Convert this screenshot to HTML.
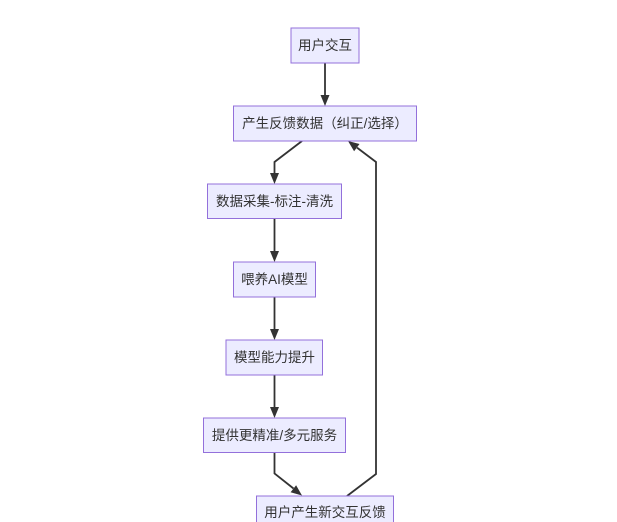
<!DOCTYPE html>
<html><head><meta charset="utf-8"><style>
html,body{margin:0;padding:0;background:#fff;width:617px;height:522px;overflow:hidden}
text{font-family:"Liberation Sans","Noto Sans CJK SC",sans-serif;font-size:13.5px;fill:#333}
</style></head><body>
<svg width="617" height="522" viewBox="0 0 617 522" xmlns="http://www.w3.org/2000/svg">
<g fill="none" stroke="#333" stroke-width="1.8">
<path d="M325,63 L325,96"/>
<path d="M302,141 L274.5,162 L274.5,174"/>
<path d="M274.5,218.5 L274.5,252"/>
<path d="M274.5,297 L274.5,330"/>
<path d="M274.5,375 L274.5,408"/>
<path d="M274.5,452.5 L274.5,473.5 L293.5,488.5"/>
<path d="M347,496 L376,474 L376,162 L357,147.6"/>
</g>
<g fill="#333">
<polygon points="320.5,95 329.5,95 325,106"/>
<polygon points="270,173 279,173 274.5,184"/>
<polygon points="270,251 279,251 274.5,262"/>
<polygon points="270,329 279,329 274.5,340"/>
<polygon points="270,407 279,407 274.5,418"/>
<polygon points="290.6,492.2 296.1,485.2 302,495.5"/>
<polygon points="359.5,144 354.1,151.2 348,141"/>
</g>
<g fill="#ECECFF" stroke="#9370DB" stroke-width="1">
<rect x="291" y="28" width="68" height="35"/>
<rect x="233.5" y="106" width="183" height="35"/>
<rect x="207.5" y="184" width="134" height="34.5"/>
<rect x="233.5" y="262" width="82" height="35"/>
<rect x="226" y="340" width="96.5" height="35"/>
<rect x="203.5" y="418" width="142" height="34.5"/>
<rect x="256.5" y="496" width="137" height="35"/>
</g>
<g text-anchor="middle" dominant-baseline="central">
<text x="325" y="45.5">用户交互</text>
<text x="325" y="123.5">产生反馈数据（纠正/选择）</text>
<text x="274.5" y="201.5">数据采集-标注-清洗</text>
<text x="274.5" y="279.5">喂养AI模型</text>
<text x="274.5" y="357.5">模型能力提升</text>
<text x="274.5" y="435.5">提供更精准/多元服务</text>
<text x="325" y="512.5">用户产生新交互反馈</text>
</g>
</svg>
</body></html>
